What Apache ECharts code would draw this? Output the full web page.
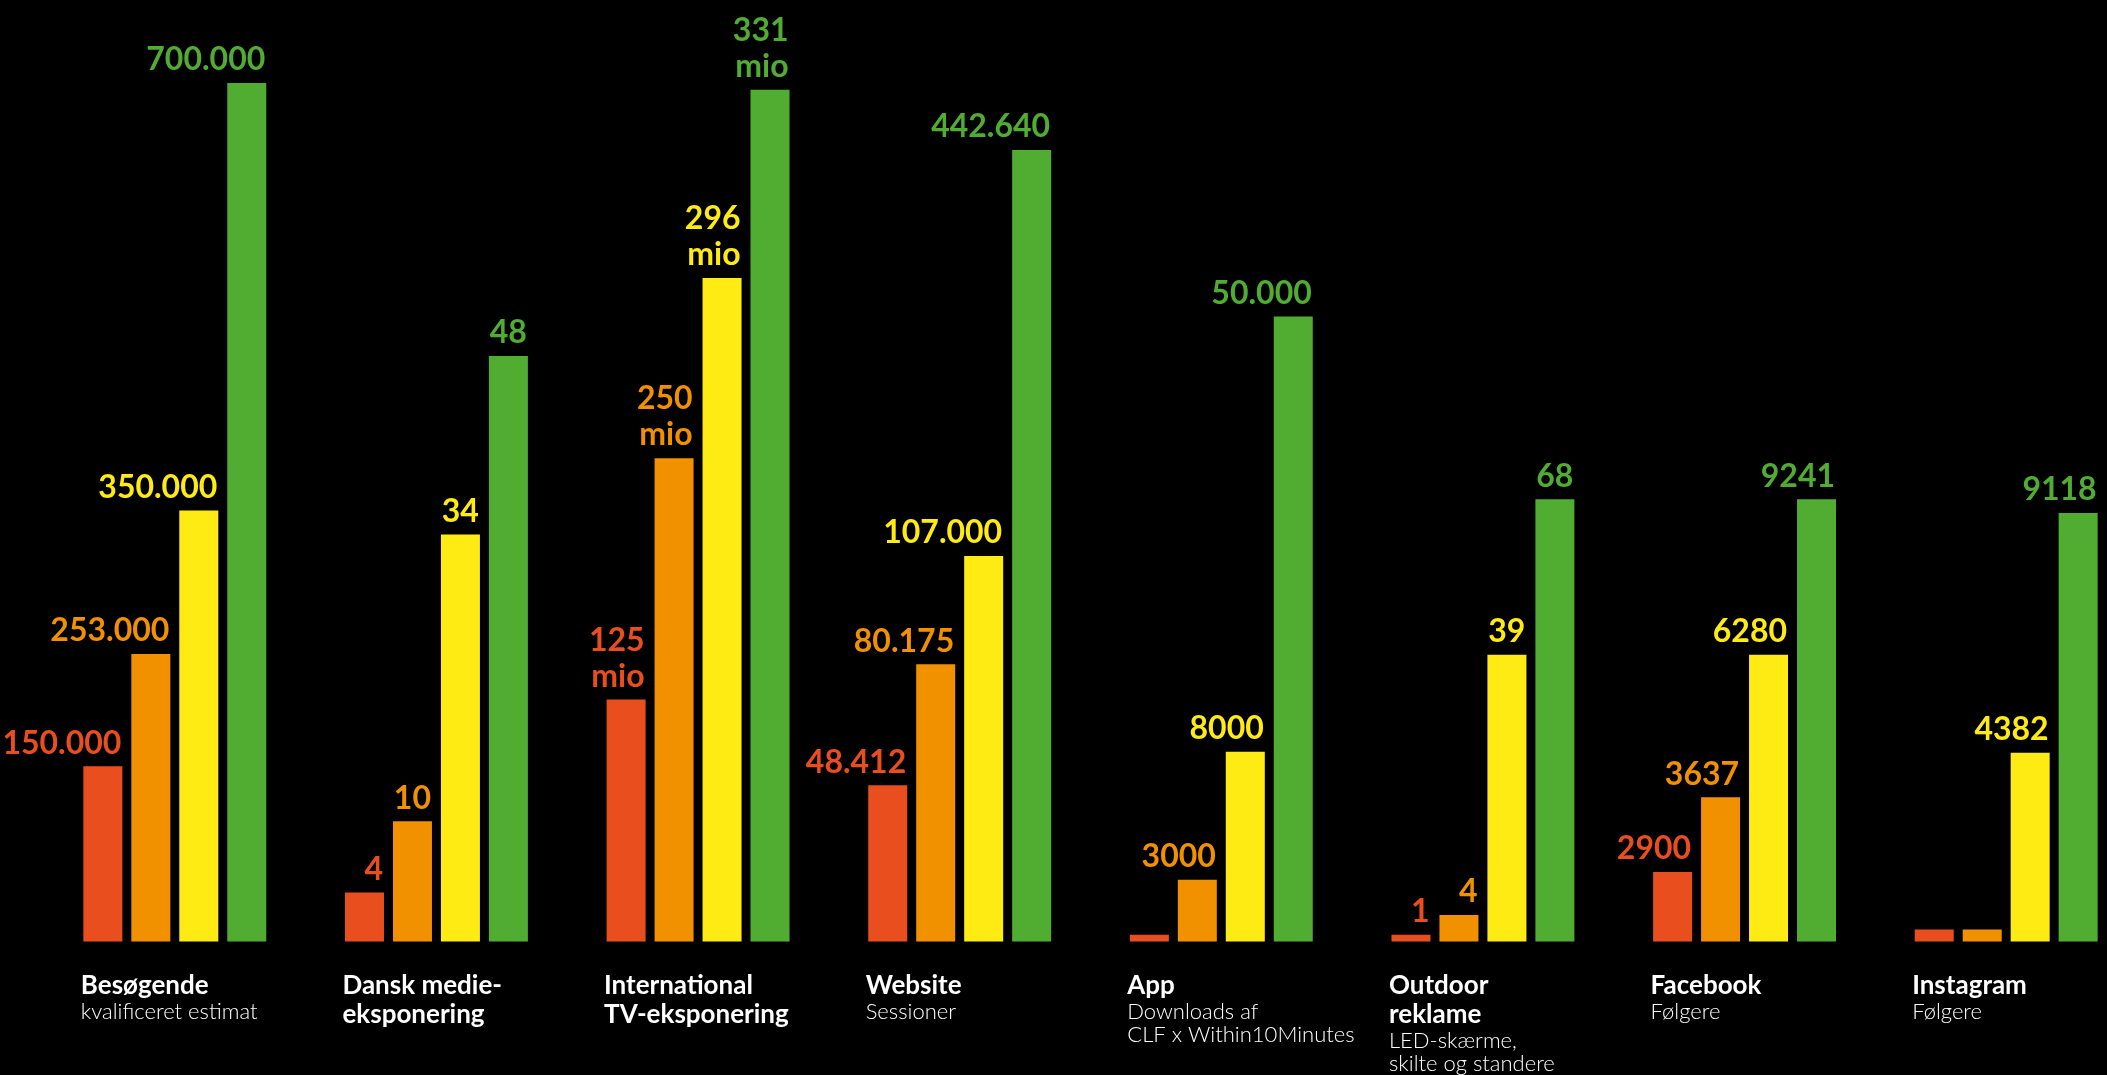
<!DOCTYPE html>
<html>
<head>
<meta charset="utf-8">
<script src="https://cdn.jsdelivr.net/npm/echarts@6/dist/echarts.min.js"></script>
<style>
  html, body { margin: 0; padding: 0; background: #000; overflow: hidden; }
  #chart { width: 2140px; height: 1075px; }
</style>
</head>
<body>
<div id="chart"></div>
<script>
// ---- Data ----
const categories = ['Besøgende', 'Dansk medieeksponering', 'International TV-eksponering', 'Website', 'App', 'Outdoor reklame', 'Facebook', 'Instagram'];
const titleLines = [['Besøgende'], ['Dansk medie-', 'eksponering'], ['International', 'TV-eksponering'], ['Website'], ['App'], ['Outdoor', 'reklame'], ['Facebook'], ['Instagram']];
const subtitleLines = [['kvalificeret estimat'], [], [], ['Sessioner'], ['Downloads af', 'CLF x Within10Minutes'], ['LED-skærme,', 'skilte og standere'], ['Følgere'], ['Følgere']];

// Displayed value labels per series (as printed above the bars)
const labelsRed    = ['150.000', '4', '125\nmio', '48.412', '', '1', '2900', ''];
const labelsOrange = ['253.000', '10', '250\nmio', '80.175', '3000', '4', '3637', ''];
const labelsYellow = ['350.000', '34', '296\nmio', '107.000', '8000', '39', '6280', '4382'];
const labelsGreen  = ['700.000', '48', '331\nmio', '442.640', '50.000', '68', '9241', '9118'];

// Bar heights as drawn in the picture (index: tallest bar = 100)
const heightRed    = [20.4, 5.7, 28.2, 18.2, 0.8, 0.8, 8.1, 1.4];
const heightOrange = [33.5, 14.0, 56.3, 32.3, 7.2, 3.1, 16.8, 1.4];
const heightYellow = [50.2, 47.4, 77.3, 44.9, 22.1, 33.4, 33.4, 22.0];
const heightGreen  = [100, 68.2, 99.2, 92.2, 72.8, 51.5, 51.5, 49.9];

const colors = ['#E94E1E', '#F29100', '#FFEB14', '#50AD32'];
const BAR_W = 39;

function makeSeries(name, heights, labels, color) {
  return {
    name: name,
    type: 'bar',
    barWidth: BAR_W,
    barGap: '23%',
    itemStyle: { color: color },
    data: heights,
    label: {
      show: true,
      position: 'top',
      align: 'right',
      offset: [BAR_W / 2 - 1, 0],
      distance: 5,
      color: color,
      fontFamily: 'Lato',
      fontWeight: 'bold',
      fontSize: 32,
      lineHeight: 36,
      formatter: p => labels[p.dataIndex]
    },
    animation: false
  };
}

const chart = echarts.init(document.getElementById('chart'));
chart.setOption({
  backgroundColor: '#000',
  animation: false,
  grid: { left: 44, top: 83, bottom: 133, right: 3 },
  xAxis: {
    type: 'category',
    data: categories,
    axisLine: { show: false },
    axisTick: { show: false },
    axisLabel: {
      interval: 0,
      margin: 30,
      width: 188,
      overflow: 'none',
      align: 'center',
      verticalAlign: 'top',
      formatter: (v, i) => {
        const t = titleLines[i].map(s => '{t|' + s + '}');
        const s = subtitleLines[i].map(x => '{s|' + x + '}');
        return t.concat(s).join('\n');
      },
      rich: {
        t: { color: '#fff', fontFamily: 'Lato', fontWeight: 'bold', fontSize: 26, lineHeight: 29, align: 'left' },
        s: { color: '#fff', fontFamily: 'Lato', fontWeight: 300, fontSize: 22, lineHeight: 23, align: 'left' }
      }
    }
  },
  yAxis: { type: 'value', min: 0, max: 100, show: false, splitLine: { show: false } },
  series: [
    makeSeries('Rød', heightRed, labelsRed, colors[0]),
    makeSeries('Orange', heightOrange, labelsOrange, colors[1]),
    makeSeries('Gul', heightYellow, labelsYellow, colors[2]),
    makeSeries('Grøn', heightGreen, labelsGreen, colors[3])
  ]
});
</script>
</body>
</html>
